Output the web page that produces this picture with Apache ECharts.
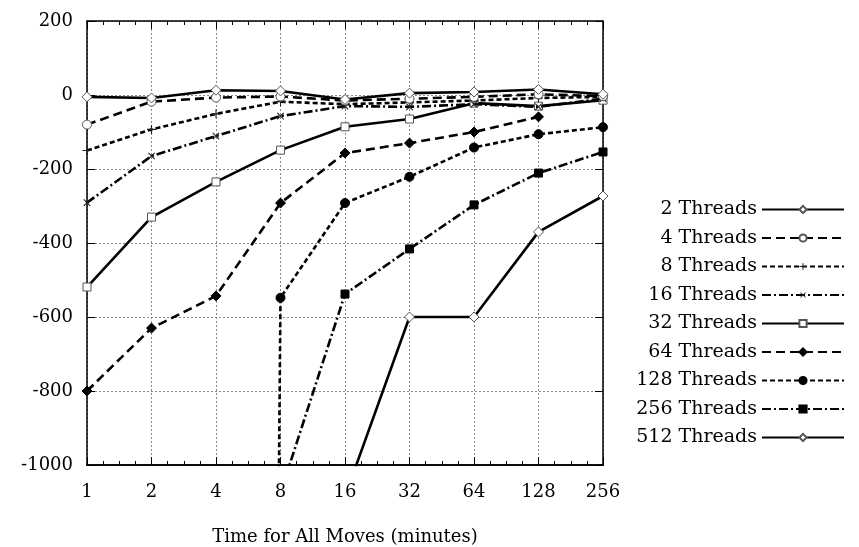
<!DOCTYPE html>
<html>
<head>
<meta charset="utf-8">
<script src="https://cdn.jsdelivr.net/npm/echarts@6/dist/echarts.min.js"></script>
<style>
  html, body { margin: 0; background: #fff; }
  #main { width: 859px; height: 547px; }
</style>
</head>
<body>
<div id="main"></div>
<script>
// minutes on the x axis (log base 2)
let minutes = [1, 2, 4, 8, 16, 32, 64, 128, 256];
let yTicks = [200, 0, -200, -400, -600, -800, -1000];

// rating difference per thread count
let threads2   = [-5, -8, 13, 11, -12, 5, 8, 15, 2];
let threads4   = [-80, -18, -7, -4, -15, -10, -5, 2, -3];
let threads8   = [-150, -93, -51, -18, -25, -20, -15, -8, -5];
let threads16  = [-291, -165, -111, -57, -30, -32, -25, -32, -10];
let threads32  = [-519, -330, -235, -149, -86, -65, -22, -30, -14];
let threads64  = [-800, -630, -543, -292, -157, -130, -100, -59, null];
let threads128 = [null, null, -20000, -548, -292, -221, -142, -106, -87];
let threads256 = [null, null, null, -1075, -538, -416, -297, -211, -154];
let threads512 = [null, null, null, null, -1085, -600, -600, -370, -273];

let names = ['2 Threads', '4 Threads', '8 Threads', '16 Threads', '32 Threads',
  '64 Threads', '128 Threads', '256 Threads', '512 Threads'];
let values = [threads2, threads4, threads8, threads16, threads32,
  threads64, threads128, threads256, threads512];

const FONT = 'DejaVu Serif';
const plus = 'path://M4.4,0H5.6V4.4H10V5.6H5.6V10H4.4V5.6H0V4.4H4.4Z';
const hollow = { color: '#fff', borderColor: '#555', borderWidth: 1 };
const filled = { color: '#000', borderColor: '#000', borderWidth: 1 };
const thin = { color: '#222', borderColor: '#222', borderWidth: 0 };

// line style / marker per series
let styles = [
  { dash: 'solid', symbol: 'diamond', size: 10, item: hollow },
  { dash: [9, 5], symbol: 'circle', size: 9, item: hollow },
  { dash: [5, 3], symbol: plus, size: 9, item: thin },
  { dash: [9, 3, 2, 3], symbol: plus, size: 9, item: thin, rotate: 45 },
  { dash: 'solid', symbol: 'rect', size: 8, item: hollow },
  { dash: [9, 5], symbol: 'diamond', size: 10, item: filled },
  { dash: [5, 3], symbol: 'circle', size: 9, item: filled },
  { dash: [9, 3, 2, 3], symbol: 'rect', size: 8, item: filled },
  { dash: 'solid', symbol: 'diamond', size: 10, item: hollow }
];

let series = names.map(function (name, i) {
  let st = styles[i];
  let data = [];
  values[i].forEach(function (v, j) {
    if (v !== null) data.push([minutes[j], v]);
  });
  return {
    name: name,
    type: 'line',
    data: data,
    symbol: st.symbol,
    symbolSize: st.size,
    symbolRotate: st.rotate || 0,
    showAllSymbol: true,
    clip: true,
    lineStyle: { color: '#000', width: 2.6, type: st.dash },
    itemStyle: st.item,
    emphasis: { disabled: true },
    z: 10 - i
  };
});

// extra frame axes: minor ticks spaced in log2 space
function minorAxis(pos) {
  return {
    show: true,
    type: 'value',
    min: 0,
    max: 8,
    interval: 1,
    position: pos,
    offset: 0,
    axisLine: { show: true, onZero: false, lineStyle: { color: '#000', width: 1.5 } },
    axisTick: { show: true, inside: true, length: 8, lineStyle: { color: '#000', width: 1 } },
    minorTick: { show: true, splitNumber: 4, length: 4, lineStyle: { color: '#000', width: 1 } },
    axisLabel: { show: false },
    splitLine: { show: false }
  };
}

let myChart = echarts.init(document.getElementById('main'));
let option = {
  backgroundColor: '#fff',
  animation: false,
  grid: { left: 87, top: 21, right: 256, bottom: 82, outerBoundsMode: 'none', containLabel: false },
  legend: {
    data: names,
    orient: 'vertical',
    right: 9,
    top: 195,
    align: 'right',
    itemWidth: 82,
    itemHeight: 9,
    itemGap: 9.5,
    formatter: '{a|{name}}',
    textStyle: {
      rich: {
        a: { width: 126, align: 'right', fontFamily: FONT, fontSize: 19, color: '#000' }
      }
    }
  },
  xAxis: [
    {
      type: 'log',
      logBase: 2,
      min: 1,
      max: 256,
      splitNumber: 8,
      name: 'Time for All Moves (minutes)',
      nameLocation: 'middle',
      nameGap: 63,
      nameTextStyle: { fontFamily: FONT, fontSize: 18, color: '#000' },
      axisLine: { onZero: false, lineStyle: { color: '#000', width: 1.5 } },
      axisTick: { inside: true, length: 8, lineStyle: { color: '#000', width: 1 } },
      axisLabel: { margin: 18, fontFamily: FONT, fontSize: 18, color: '#000' },
      splitLine: { show: true, lineStyle: { color: '#888', width: 1, type: [2, 2] } }
    },
    minorAxis('top'),
    minorAxis('bottom')
  ],
  yAxis: [
    {
      type: 'value',
      min: yTicks[yTicks.length - 1],
      max: yTicks[0],
      interval: 200,
      axisLine: { show: true, onZero: false, lineStyle: { color: '#000', width: 1.5 } },
      axisTick: { show: true, inside: true, length: 8, lineStyle: { color: '#000', width: 1 } },
      axisLabel: {
        margin: 14, fontFamily: FONT, fontSize: 18, color: '#000',
        formatter: function (v) { return String(v); }
      },
      splitLine: { show: true, lineStyle: { color: '#888', width: 1, type: [2, 2] } }
    },
    {
      type: 'value',
      min: yTicks[yTicks.length - 1],
      max: yTicks[0],
      interval: 200,
      position: 'right',
      axisLine: { show: true, onZero: false, lineStyle: { color: '#000', width: 1.5 } },
      axisTick: { show: true, inside: true, length: 8, lineStyle: { color: '#000', width: 1 } },
      axisLabel: { show: false },
      splitLine: { show: false }
    }
  ],
  series: series
};
myChart.setOption(option);
</script>
</body>
</html>
